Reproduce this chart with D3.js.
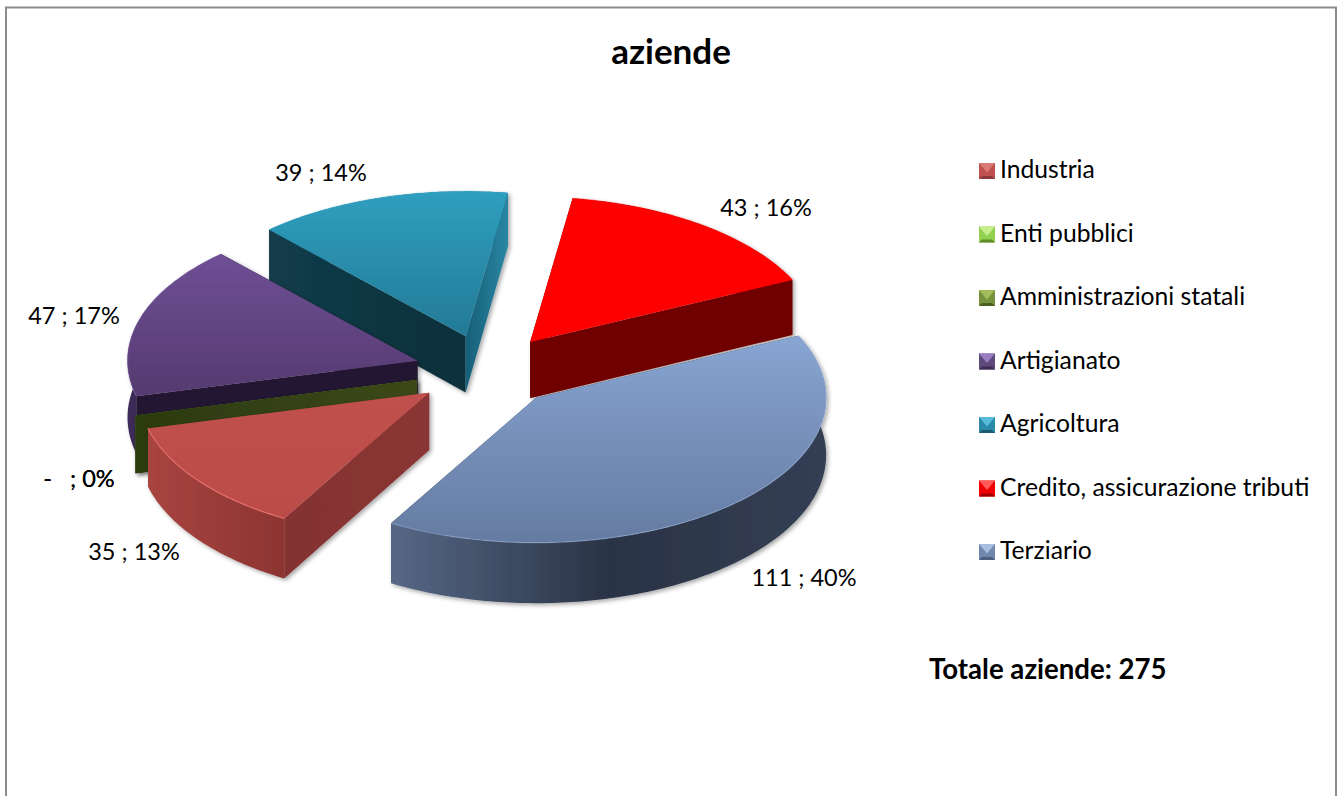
<!DOCTYPE html>
<html>
<head>
<meta charset="utf-8">
<style>html,body{margin:0;padding:0;background:#fff;overflow:hidden}svg{display:block}text{font-family:Lato,"Open Sans",sans-serif;fill:#000}</style>
<script src="https://cdn.jsdelivr.net/npm/d3@7/dist/d3.min.js"></script>
</head>
<body>
<svg id="c" width="1343" height="796"></svg>
<script>
const categories = ["Industria","Enti pubblici","Amministrazioni statali","Artigianato","Agricoltura","Credito, assicurazione tributi","Terziario"];
const values = [35,0,0,47,39,43,111];
const labelTexts = ["35 ; 13%","-   ; 0%","-   ; 0%","47 ; 17%","39 ; 14%","43 ; 16%","111 ; 40%"];
const chartTitle = "aziende";
const totalNote = "Totale aziende: 275";

const palette = [
 {top:["#c0504d","#bb4c48"],wall:["#a8443f","#8c3532"],rim:"#e8706c",rimO:0.9,cutA:"#843230",cutB:"#8a3634",leg:["#d97a77","#c0504d","#8d3a38"]},
 {top:["#9bd25a","#86bd48"],wall:["#5f8a30","#4e7526"],rim:"#b4e07a",rimO:0.5,cutA:"#4e7526",cutB:"#5f8a30",leg:["#c6ee8c","#92d050","#5f8c2c"]},
 {top:["#76923c","#6b8736"],wall:["#3a4a1a","#2f3d14"],rim:"#94ad55",rimO:0.5,cutA:"#2c3a10",cutB:"#3c4817",leg:["#a3bd5c","#76923c","#4a5e22"]},
 {top:["#6e4f95","#553a70"],wall:["#3e2a58","#2a1c3c"],rim:"#8a6ab0",rimO:0.35,cutA:"#211530",cutB:"#241830",leg:["#9a7cc2","#604a7b","#3e2d55"]},
 {top:["#2f9fbf","#237a96"],wall:["#1a6a84","#155a70"],rim:"#3fb0d0",rimO:0.35,cutA:"#123c4a",cutB:"#0e303b",cutLit:["#175f77","#2a86a3"],leg:["#55bbd8","#2a8aa8","#1a5c72"]},
 {top:["#ff0000","#ff0000"],wall:["#700000","#700000"],rim:"#ff0000",rimO:0.5,cutA:"#700000",cutB:"#700000",leg:["#ff5a5a","#f00000","#a00000"]},
 {top:["#88a5d3","#657ba1"],wall:["#566785","#2b3547"],rim:"#9bb6e0",rimO:0.5,cutA:"#2b3547",cutB:"#2b3547",leg:["#a8bedf","#7088ae","#4d5f80"]}
];
const drawOrder = [4,5,3,1,2,0,6];
const labelAnchors = [[134,552],[79,479],[79,479],[74,316],[321,173],[766,208],[804,578]];

const svg = d3.select("#c");
const cx=487, cy=371, rx=290, ry=145, explode=0.25;
const startDeg=210;
const pie = d3.pie().sort(null).value(d=>d).startAngle(startDeg*Math.PI/180).endAngle((startDeg+360)*Math.PI/180);
const arcs = pie(values);

const sx = d3.scaleLinear().domain([-1,1]).range([cx-rx,cx+rx]);
const sy = d3.scaleLinear().domain([-1,1]).range([cy-ry,cy+ry]);
const depth = d3.scaleLinear().domain([231,518]).range([54,60]);
const line = d3.line();

const defs = svg.append("defs");
const f = defs.append("filter").attr("id","sh").attr("x","-10%").attr("y","-10%").attr("width","125%").attr("height","125%");
f.append("feDropShadow").attr("dx",2).attr("dy",2).attr("stdDeviation",2).attr("flood-color","#000").attr("flood-opacity",0.35);
const blur = defs.append("filter").attr("id","bl").attr("x","-5%").attr("y","-5%").attr("width","110%").attr("height","110%");
blur.append("feGaussianBlur").attr("stdDeviation",0.6);

function grad(id,c0,c1,horizontal){
  const g=defs.append("linearGradient").attr("id",id).attr("x1",0).attr("y1",0).attr("x2",horizontal?1:0).attr("y2",horizontal?0:1);
  g.append("stop").attr("offset",0).attr("stop-color",c0);
  g.append("stop").attr("offset",1).attr("stop-color",c1);
}
palette.forEach((p,i)=>{
  grad("top"+i,p.top[0],p.top[1],false);
  grad("wall"+i,p.wall[0],p.wall[1],true);
  grad("cut"+i,p.cutA,p.cutB,true);
  if(p.cutLit) grad("lit"+i,p.cutLit[0],p.cutLit[1],true);
});
const tw=defs.select("#wall6");
tw.selectAll("stop").remove();
tw.append("stop").attr("offset",0).attr("stop-color","#566785");
tw.append("stop").attr("offset",0.5).attr("stop-color","#2a3345");
tw.append("stop").attr("offset",1).attr("stop-color","#343f54");

svg.append("rect").attr("x",6).attr("y",7.5).attr("width",1330).attr("height",830)
  .attr("fill","#fff").attr("stroke","#8c8c8c").attr("stroke-width",2);

const pt=(a,ox,oy,r=1)=>[ox+(sx(r*Math.sin(a))-cx), oy+(sy(-r*Math.cos(a))-cy)];
const down=p=>[p[0],p[1]+depth(p[1])];

const layer=svg.append("g").attr("class","pie");
drawOrder.forEach(i=>{
  const d=arcs[i], p=palette[i];
  const mid=(d.startAngle+d.endAngle)/2;
  const [ex,ey]=pt(mid,cx,cy,explode);
  const n=Math.max(2,Math.ceil((d.endAngle-d.startAngle)*60));
  const rim=d3.range(n+1).map(k=>pt(d.startAngle+(d.endAngle-d.startAngle)*k/n,ex,ey));
  const apex=[ex,ey];
  const g=layer.append("g").attr("filter","url(#sh)");

  const quad=(a,b)=>line([a,b,down(b),down(a)])+"Z";
  const sVis=Math.sin(d.startAngle)<0, eVis=Math.sin(d.endAngle)>0;
  const rs=rim[0], re=rim[rim.length-1];
  const cut=(a,b,vis)=>g.append("path").attr("d",quad(a,b)).attr("fill",(vis&&p.cutLit&&b===re)?`url(#lit${i})`:`url(#cut${i})`);
  if(!sVis) cut(apex,rs,false);
  if(!eVis) cut(apex,re,false);
  if(d.endAngle>d.startAngle){
    g.append("path").attr("d",line(rim.concat(rim.map(down).reverse()))+"Z").attr("fill",`url(#wall${i})`);
  }
  if(sVis) cut(apex,rs,true);
  if(eVis) cut(apex,re,true);
  if(d.endAngle>d.startAngle){
    g.append("path").attr("d",line([apex].concat(rim))+"Z").attr("fill",`url(#top${i})`);
    g.append("path").attr("d",line(rim)).attr("fill","none").attr("stroke",p.rim).attr("stroke-opacity",p.rimO).attr("stroke-width",1.2).attr("filter","url(#bl)");
  }
});

svg.append("text").attr("x",671).attr("y",64).attr("text-anchor","middle").attr("font-size",35).attr("font-weight",700).text(chartTitle);

labelTexts.forEach((t,i)=>{
  svg.append("text").attr("class","dl").attr("x",labelAnchors[i][0]).attr("y",labelAnchors[i][1]+8)
    .attr("text-anchor","middle").attr("font-size",23.5).style("white-space","pre").text(t);
});

const ly=d3.scalePoint().domain(categories).range([170,551]);
const m=16;
const leg=svg.append("g").selectAll("g").data(categories).join("g").attr("transform",d=>`translate(979,${ly(d)-m/2+1})`);
leg.each(function(d,i){
  const g=d3.select(this), c=palette[i].leg, s=3;
  g.append("rect").attr("width",m).attr("height",m).attr("fill",c[1]);
  g.append("path").attr("d",line([[0,0],[m,0],[m/2,m*0.6]])+"Z").attr("fill",c[0]);
  g.append("path").attr("d",line([[0,m],[m,m],[m-s,m-s],[s,m-s]])+"Z").attr("fill",c[2]);
});
leg.append("text").attr("x",21).attr("y",m/2+7).attr("font-size",24.7).text(d=>d);

svg.append("text").attr("x",929).attr("y",679).attr("font-size",27.6).attr("font-weight",700).text(totalNote);
</script>
</body>
</html>
